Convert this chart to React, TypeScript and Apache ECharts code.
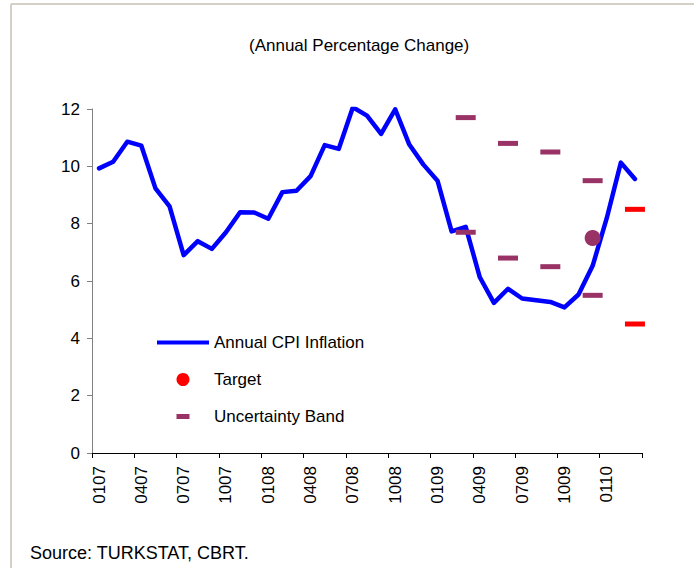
import { useEffect, useRef } from "react";
import * as echarts from "echarts";

// Month labels (MMYY), Jan 2007 – Mar 2010
const months = [
  "0107", "0207", "0307", "0407", "0507", "0607", "0707", "0807", "0907", "1007", "1107", "1207",
  "0108", "0208", "0308", "0408", "0508", "0608", "0708", "0808", "0908", "1008", "1108", "1208",
  "0109", "0209", "0309", "0409", "0509", "0609", "0709", "0809", "0909", "1009", "1109", "1209",
  "0110", "0210", "0310",
];

// Annual CPI inflation (%)
const inflation = [
  9.93, 10.16, 10.86, 10.72, 9.23, 8.6, 6.9, 7.39, 7.12, 7.7, 8.4, 8.39,
  8.17, 9.1, 9.15, 9.66, 10.74, 10.61, 12.06, 11.77, 11.13, 11.99, 10.76, 10.06,
  9.5, 7.73, 7.89, 6.13, 5.24, 5.73, 5.39, 5.33, 5.27, 5.08, 5.53, 6.53,
  8.19, 10.13, 9.56,
];

// Target
const targetMonths = ["1209"];
const targetValues = [7.5];

// Uncertainty band
const bandMonths = ["0309", "0609", "0909", "1209", "0310"];
const bandUpper = [11.7, 10.8, 10.5, 9.5, 8.5];
const bandLower = [7.7, 6.8, 6.5, 5.5, 4.5];

const yTickValues = [0, 2, 4, 6, 8, 10, 12];

export default function App() {
  const ref = useRef<HTMLDivElement>(null);

  useEffect(() => {
    document.body.style.margin = "0";
    const el = ref.current;
    if (!el) return;
    const chart = echarts.init(el, null, { renderer: "svg" });
    const font = "'Liberation Sans', Arial, Helvetica, sans-serif";
    const purple = "#993366";
    const red = "#FF0000";
    const blue = "#0000FF";

    const bandData: any[] = [];
    bandMonths.forEach((m, i) => {
      const c = i === bandMonths.length - 1 ? red : purple;
      bandData.push({ value: [m, bandUpper[i]], itemStyle: { color: c, opacity: 1 } });
      bandData.push({ value: [m, bandLower[i]], itemStyle: { color: c, opacity: 1 } });
    });

    const targetData = targetMonths.map((m, i) => ({
      value: [m, targetValues[i]],
      itemStyle: { color: purple, opacity: 1 },
    }));

    chart.setOption({
      animation: false,
      backgroundColor: "#FFFFFF",
      textStyle: { fontFamily: font },
      title: [
        {
          text: "(Annual Percentage Change)",
          left: 249,
          top: 37,
          padding: 0,
          textStyle: { fontFamily: font, fontSize: 17, fontWeight: "normal", color: "#000" },
        },
        {
          text: "Source: TURKSTAT, CBRT.",
          left: 30,
          top: 544,
          padding: 0,
          textStyle: { fontFamily: font, fontSize: 18, fontWeight: "normal", color: "#000" },
        },
      ],
      graphic: [
        {
          type: "line",
          shape: { x1: 11, y1: 4, x2: 694, y2: 4 },
          style: { stroke: "#D4D0C8", lineWidth: 2 },
          silent: true,
        },
        {
          type: "line",
          shape: { x1: 11, y1: 4, x2: 11, y2: 568 },
          style: { stroke: "#D4D0C8", lineWidth: 2 },
          silent: true,
        },
      ],
      legend: {
        orient: "vertical",
        left: 157,
        top: 334,
        padding: 0,
        itemWidth: 52,
        itemHeight: 13,
        itemGap: 20,
        selectedMode: false,
        itemStyle: { borderWidth: 0, opacity: 1 },
        textStyle: { fontFamily: font, fontSize: 17, color: "#000" },
        data: [
          { name: "Annual CPI Inflation", icon: "path://M0,0H52V4H0Z" },
          { name: "Target", icon: "circle" },
          { name: "Uncertainty Band", icon: "path://M0,0M52,13M19.5,4H32.5V9H19.5Z" },
        ],
      },
      grid: { left: 92, right: 52, top: 109, bottom: 115, containLabel: false },
      xAxis: {
        type: "category",
        data: months,
        boundaryGap: true,
        axisLine: { show: true, lineStyle: { color: "#000", width: 1 } },
        axisTick: { show: true, interval: 2, length: 5, alignWithLabel: false, lineStyle: { color: "#000" } },
        axisLabel: {
          interval: 2,
          rotate: 90,
          margin: 13,
          fontFamily: font,
          fontSize: 17,
          color: "#000",
        },
        splitLine: { show: false },
      },
      yAxis: {
        type: "value",
        min: yTickValues[0],
        max: yTickValues[yTickValues.length - 1],
        interval: 2,
        axisLine: { show: true, lineStyle: { color: "#808080", width: 1 } },
        axisTick: { show: true, length: 5, lineStyle: { color: "#808080" } },
        axisLabel: { margin: 12, fontFamily: font, fontSize: 17, color: "#000" },
        splitLine: { show: false },
      },
      series: [
        {
          name: "Annual CPI Inflation",
          type: "line",
          data: inflation,
          symbol: "none",
          itemStyle: { color: blue },
          lineStyle: { color: blue, width: 4.5, join: "round", cap: "round" },
          emphasis: { disabled: true },
          z: 2,
        },
        {
          name: "Target",
          type: "scatter",
          data: targetData,
          symbol: "circle",
          symbolSize: 16,
          itemStyle: { color: red, opacity: 1 },
          emphasis: { disabled: true },
          z: 3,
        },
        {
          name: "Uncertainty Band",
          type: "scatter",
          data: bandData,
          symbol: "rect",
          symbolSize: [20, 5],
          itemStyle: { color: purple, opacity: 1 },
          emphasis: { disabled: true },
          z: 3,
        },
      ],
    });

    return () => chart.dispose();
  }, []);

  return (
    <div
      ref={ref}
      style={{ position: "absolute", left: 0, top: 0, width: 694, height: 568 }}
    />
  );
}
